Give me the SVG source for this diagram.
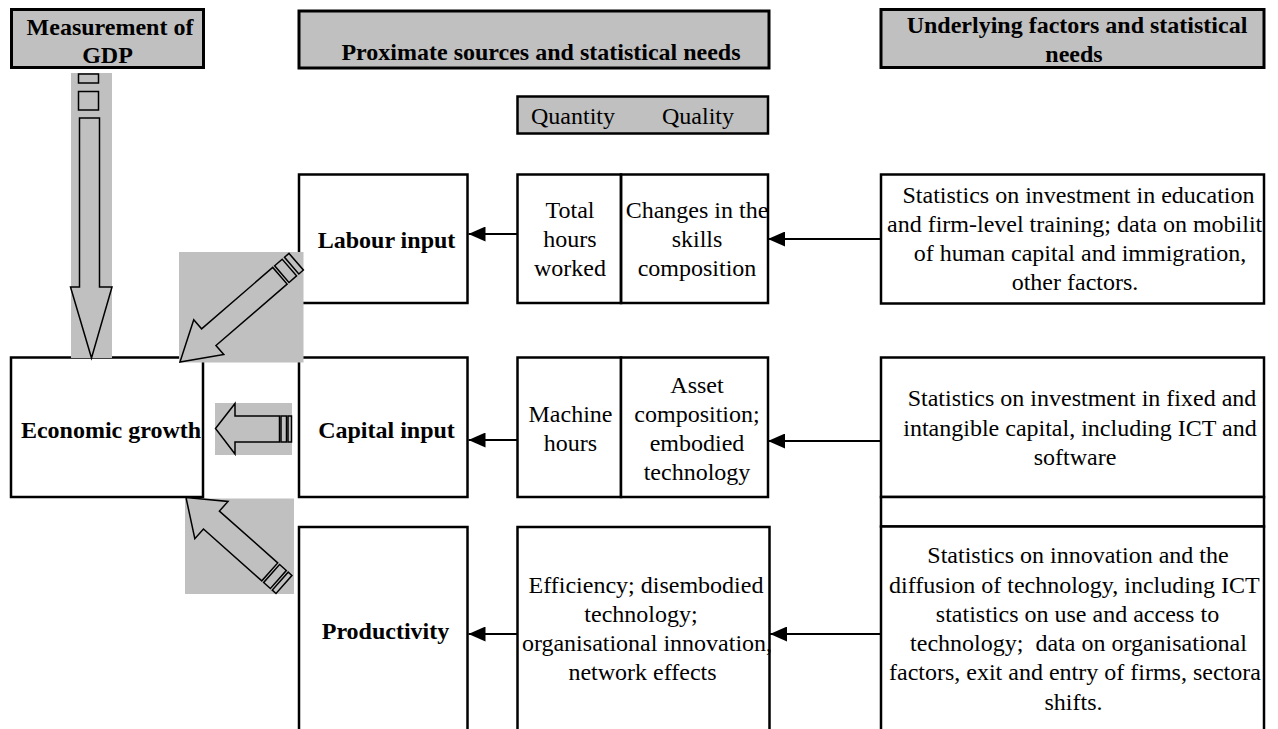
<svg xmlns="http://www.w3.org/2000/svg" width="1278" height="729" viewBox="0 0 1278 729">
<style>
text{font-family:"Liberation Serif","Times New Roman",serif;font-size:24px;fill:#000}
.b{font-weight:bold}
.m{text-anchor:middle}
.hdr{fill:#c0c0c0;stroke:#000;stroke-width:3}
.box{fill:#fff;stroke:#000;stroke-width:2.5}
.gray{fill:#c0c0c0;stroke:none}
.blk{fill:#c0c0c0;stroke:#000;stroke-width:1.5;stroke-linejoin:miter}
.con{stroke:#000;stroke-width:2;fill:none;marker-end:url(#ah)}
</style>
<defs>
<marker id="ah" viewBox="0 0 17 15" refX="17" refY="7.5" markerWidth="17" markerHeight="15" markerUnits="userSpaceOnUse" orient="auto">
<path d="M0,0 L17,7.5 L0,15 z" fill="#000"/>
</marker>
</defs>
<rect width="1278" height="729" fill="#fff"/>

<g id="hdr-gdp">
<rect class="hdr" x="11.5" y="9.5" width="192" height="58"/>
<text class="b m" x="110" y="35">Measurement of</text>
<text class="b m" x="107.5" y="63">GDP</text>
</g>
<g id="hdr-proximate">
<rect class="hdr" x="299" y="11" width="470" height="57"/>
<text class="b m" x="541" y="60">Proximate sources and statistical needs</text>
</g>
<g id="hdr-underlying">
<rect class="hdr" x="881" y="9.5" width="383" height="58"/>
<text class="b m" x="1077" y="33">Underlying factors and statistical</text>
<text class="b m" x="1074" y="62">needs</text>
</g>
<g id="hdr-qq">
<rect class="hdr" x="517.5" y="96.5" width="250.5" height="37" style="stroke-width:2.5"/>
<text x="531" y="124">Quantity</text>
<text x="662" y="124">Quality</text>
</g>

<g id="economic-growth">
<rect class="box" x="11" y="357.5" width="192" height="139.5"/>
<text class="b m" x="111" y="438">Economic growth</text>
</g>
<g id="labour-input">
<rect class="box" x="299" y="174.5" width="168.5" height="128.5"/>
<text class="b m" x="386.5" y="248">Labour input</text>
</g>
<g id="capital-input">
<rect class="box" x="299" y="357.5" width="168.5" height="139.5"/>
<text class="b m" x="386.5" y="438">Capital input</text>
</g>
<g id="productivity">
<rect class="box" x="299" y="527" width="168.5" height="220"/>
<text class="b m" x="385.5" y="639">Productivity</text>
</g>

<g id="labour-qq">
<rect class="box" x="517.5" y="174.5" width="103.5" height="128.5"/>
<text class="m" x="570" y="218">Total</text>
<text class="m" x="570" y="247">hours</text>
<text class="m" x="570" y="276">worked</text>
<text class="m" x="697" y="218">Changes in the</text>
<text class="m" x="697" y="247">skills</text>
<text class="m" x="697" y="276">composition</text>
<rect class="box" x="621" y="174.5" width="147" height="128.5" fill="none" style="fill:none"/>
</g>
<g id="capital-qq">
<rect class="box" x="517.5" y="357.5" width="103.5" height="139.5"/>
<rect class="box" x="621" y="357.5" width="147" height="139.5"/>
<text class="m" x="570.5" y="422">Machine</text>
<text class="m" x="570.5" y="451">hours</text>
<text class="m" x="697" y="393">Asset</text>
<text class="m" x="697" y="422">composition;</text>
<text class="m" x="697" y="451">embodied</text>
<text class="m" x="697" y="480">technology</text>
</g>
<g id="productivity-q">
<rect class="box" x="517.5" y="527" width="252" height="220"/>
<text class="m" x="646" y="593">Efficiency; disembodied</text>
<text class="m" x="641" y="622">technology;</text>
<text class="m" x="647" y="651">organisational innovation,</text>
<text class="m" x="642.5" y="680">network effects</text>
</g>

<g id="labour-factors">
<rect class="box" x="881" y="174.5" width="383" height="129"/>
<text class="m" x="1078.5" y="203">Statistics on investment in education</text>
<text x="887" y="232">and firm-level training; data on mobilit</text>
<text class="m" x="1080" y="261">of human capital and immigration,</text>
<text class="m" x="1075" y="290">other factors.</text>
</g>
<g id="capital-factors">
<rect class="box" x="881" y="357.5" width="383" height="139.5"/>
<text class="m" x="1082" y="406">Statistics on investment in fixed and</text>
<text class="m" x="1080" y="436">intangible capital, including ICT and</text>
<text class="m" x="1075" y="465">software</text>
</g>
<g id="spacer-box">
<rect class="box" x="881" y="497" width="383" height="29.5"/>
</g>
<g id="productivity-factors">
<rect class="box" x="881" y="526.5" width="383" height="220"/>
<text class="m" x="1078" y="563">Statistics on innovation and the</text>
<text x="889" y="593">diffusion of technology, including ICT</text>
<text class="m" x="1077.5" y="622">statistics on use and access to</text>
<text class="m" x="1078.5" y="651" xml:space="preserve">technology;  data on organisational</text>
<text x="889" y="680">factors, exit and entry of firms, sectora</text>
<text class="m" x="1073.5" y="710">shifts.</text>
</g>

<g id="connectors">
<line class="con" x1="880" y1="239" x2="768" y2="239"/>
<line class="con" x1="517" y1="234" x2="468.5" y2="234"/>
<line class="con" x1="880" y1="441" x2="768" y2="441"/>
<line class="con" x1="517" y1="440" x2="468.5" y2="440"/>
<line class="con" x1="880" y1="634" x2="770" y2="634"/>
<line class="con" x1="517" y1="634" x2="468.5" y2="634"/>

<g id="gdp-arrow">
<rect class="gray" x="71" y="73" width="41" height="285"/>
<rect class="blk" x="78.5" y="74" width="20" height="9"/>
<rect class="blk" x="78.5" y="91.5" width="20" height="18.5"/>
<polygon class="blk" points="79.5,118 99.5,118 99.5,287 112,287 91.5,358 70.5,287 79.5,287"/>
</g>
<g id="labour-arrow">
<rect class="gray" x="179" y="252" width="124.5" height="110.5"/>
<g transform="translate(180,362) rotate(-40.8)">
<polygon class="blk" points="0,0 38,-23 38,-11 132,-11 132,11 38,11 38,23"/>
<rect class="blk" x="134.5" y="-11" width="10" height="22"/>
<rect class="blk" x="147.5" y="-11" width="6" height="22"/>
</g>
</g>
<g id="capital-arrow">
<rect class="gray" x="215" y="403" width="77" height="52"/>
<polygon class="blk" points="215.5,428.5 235,403.5 235,416 279.5,416 279.5,442 235,442 235,454"/>
<rect class="blk" x="281" y="416" width="5.5" height="26"/>
<rect class="blk" x="288" y="416" width="3.5" height="26"/>
</g>
<g id="productivity-arrow">
<rect class="gray" x="185" y="498.5" width="109" height="95.5"/>
<g transform="translate(186,497.5) rotate(41.6)">
<polygon class="blk" points="0,0 34,-25 34,-12 112,-12 112,12 34,12 34,25"/>
<rect class="blk" x="114.5" y="-12" width="9" height="24"/>
<rect class="blk" x="126" y="-12" width="5" height="24"/>
</g>
</g>
</g>
</svg>
